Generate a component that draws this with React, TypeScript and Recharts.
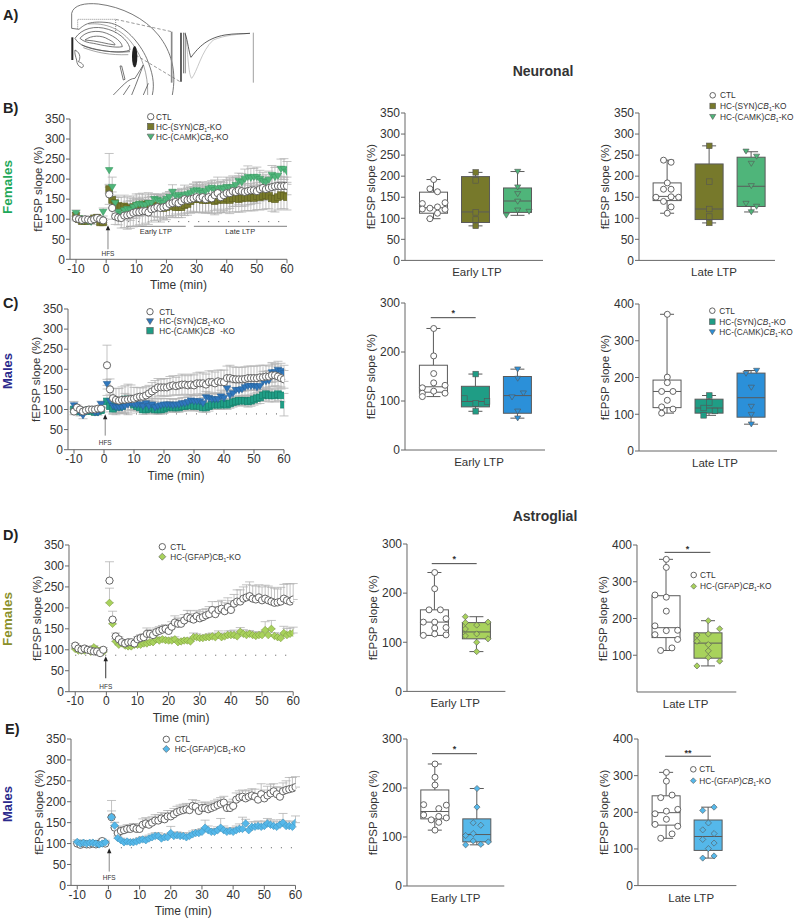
import React from "react";
import {
  Bar,
  ComposedChart,
  ErrorBar,
  ReferenceDot,
  ReferenceLine,
  Scatter,
  XAxis,
  YAxis,
} from "recharts";

// minutes, there is no sample at t=0
const TIME = [
  -10, -9, -8, -7, -6, -5, -4, -3, -2, -1,
  1, 2, 3, 4, 5, 6, 7, 8, 9, 10,
  11, 12, 13, 14, 15, 16, 17, 18, 19, 20,
  21, 22, 23, 24, 25, 26, 27, 28, 29, 30,
  31, 32, 33, 34, 35, 36, 37, 38, 39, 40,
  41, 42, 43, 44, 45, 46, 47, 48, 49, 50,
  51, 52, 53, 54, 55, 56, 57, 58, 59, 60,
];
const TIME_TICKS = [-10, 0, 10, 20, 30, 40, 50, 60];
const SLOPE_TICKS_350 = [0, 50, 100, 150, 200, 250, 300, 350];
const SLOPE_TICKS_300 = [0, 100, 200, 300];
const SLOPE_TICKS_400 = [0, 100, 200, 300, 400];
const SLOPE_TICKS_400_NO_ZERO = [100, 200, 300, 400];

// panel B time course
const B_CTL = [
  102, 100, 98, 100, 99, 97, 100, 103, 100, 97,
  162, 128, 107, 104, 103, 109, 110, 112, 116, 118,
  118, 120, 120, 117, 125, 127, 130, 128, 130, 132,
  138, 140, 143, 140, 145, 150, 148, 150, 152, 155,
  152, 155, 150, 155, 152, 160, 165, 155, 160, 165,
  165, 170, 168, 172, 170, 168, 170, 172, 172, 170,
  175, 178, 175, 178, 180, 182, 183, 182, 183, 183,
];
const B_CTL_ERR = [
  6, 5, 5, 5, 5, 6, 5, 6, 5, 5,
  25, 28, 20, 18, 25, 30, 35, 35, 35, 35,
  32, 35, 30, 30, 32, 30, 32, 35, 32, 33,
  30, 32, 30, 30, 32, 35, 32, 30, 35, 38,
  35, 38, 35, 35, 38, 38, 40, 38, 38, 40,
  38, 38, 36, 36, 38, 35, 34, 35, 32, 30,
  30, 30, 28, 28, 26, 26, 25, 24, 22, 22,
];
const B_SYN = [
  108, 100, 95, 96, 96, 98, 102, 104, 92, 92,
  175, 148, 140, 133, 130, 132, 128, 125, 130, 133,
  135, 137, 135, 138, 135, 135, 130, 132, 128, 130,
  135, 132, 130, 130, 130, 135, 138, 145, 150, 150,
  150, 148, 148, 148, 150, 145, 148, 150, 148, 152,
  148, 152, 152, 150, 152, 155, 153, 155, 153, 158,
  155, 158, 160, 158, 152, 150, 155, 160, 158, 155,
];
const B_SYN_ERR = [
  8, 7, 6, 6, 6, 6, 8, 6, 5, 5,
  10, 20, 20, 22, 25, 28, 28, 28, 28, 30,
  28, 28, 26, 28, 28, 28, 26, 26, 26, 26,
  26, 28, 26, 26, 26, 26, 28, 30, 32, 34,
  32, 32, 32, 32, 34, 34, 34, 32, 32, 34,
  34, 34, 34, 32, 34, 34, 32, 34, 32, 34,
  32, 34, 34, 32, 32, 32, 32, 34, 32, 32,
];
const B_CAMK = [
  115, 102, 96, 98, 95, 93, 98, 102, 100, 118,
  222, 180, 140, 118, 112, 122, 125, 122, 130, 135,
  138, 135, 135, 140, 140, 150, 148, 145, 140, 150,
  155, 168, 158, 160, 155, 160, 162, 165, 170, 172,
  170, 165, 170, 175, 178, 172, 175, 178, 175, 180,
  178, 180, 185, 195, 192, 200, 205, 203, 205, 205,
  200, 195, 192, 198, 210, 205, 208, 225, 225, 218,
];
const B_CAMK_ERR = [
  8, 6, 6, 6, 6, 6, 6, 6, 6, 10,
  42, 25, 15, 12, 10, 12, 14, 14, 15, 14,
  14, 14, 14, 14, 16, 12, 14, 14, 14, 15,
  14, 18, 15, 14, 15, 14, 14, 15, 18, 20,
  22, 20, 18, 18, 18, 18, 16, 16, 16, 18,
  18, 20, 20, 20, 22, 25, 28, 24, 22, 25,
  22, 22, 20, 22, 24, 24, 24, 25, 26, 26,
];

// panel C time course
const C_CTL = [
  95, 105, 100, 95, 98, 100, 100, 100, 102, 102,
  210, 150, 128, 124, 122, 124, 124, 125, 126, 127,
  130, 132, 132, 135, 140, 145, 150, 155, 155, 155,
  155, 158, 160, 158, 160, 162, 162, 160, 162, 160,
  165, 165, 165, 162, 168, 168, 165, 170, 168, 168,
  178, 178, 176, 175, 175, 175, 176, 178, 178, 178,
  178, 180, 180, 182, 182, 185, 185, 182, 178, 175,
];
const C_CTL_ERR = [
  8, 6, 6, 6, 6, 6, 5, 5, 5, 5,
  50, 26, 25, 28, 30, 32, 35, 38, 35, 28,
  25, 22, 22, 22, 20, 22, 22, 22, 20, 22,
  22, 24, 24, 22, 24, 26, 24, 24, 26, 26,
  26, 28, 26, 26, 28, 28, 28, 28, 30, 30,
  30, 32, 30, 30, 30, 30, 30, 30, 30, 30,
  30, 30, 30, 28, 26, 28, 26, 24, 22, 22,
];
const C_SYN = [
  110, 98, 92, 85, 95, 98, 98, 92, 92, 113,
  163, 120, 108, 105, 105, 105, 108, 112, 115, 112,
  112, 112, 108, 115, 108, 112, 105, 108, 110, 112,
  112, 112, 110, 112, 112, 115, 115, 118, 122, 120,
  120, 120, 115, 130, 128, 125, 125, 125, 132, 128,
  152, 135, 140, 148, 148, 150, 155, 158, 158, 158,
  155, 158, 170, 170, 172, 192, 192, 198, 195, 190,
];
const C_SYN_ERR = [
  10, 8, 8, 8, 6, 6, 6, 6, 6, 8,
  12, 18, 18, 18, 15, 15, 15, 15, 15, 15,
  15, 15, 15, 15, 15, 15, 15, 18, 18, 15,
  15, 15, 15, 15, 15, 15, 15, 15, 15, 15,
  15, 15, 15, 15, 15, 15, 15, 15, 16, 16,
  15, 15, 15, 18, 18, 20, 22, 24, 25, 24,
  24, 25, 25, 25, 25, 25, 22, 22, 20, 20,
];
const C_CAMK = [
  100, 98, 95, 95, 96, 98, 96, 94, 96, 98,
  120, 108, 102, 108, 106, 108, 125, 125, 118, 112,
  108, 105, 100, 100, 102, 105, 100, 100, 100, 102,
  105, 108, 105, 105, 105, 108, 108, 110, 110, 108,
  110, 108, 105, 105, 108, 112, 112, 112, 112, 115,
  112, 115, 118, 120, 122, 122, 122, 120, 122, 125,
  128, 130, 135, 138, 135, 135, 135, 138, 135, 112,
];
const C_CAMK_ERR = [
  6, 6, 6, 5, 5, 5, 5, 5, 5, 5,
  15, 14, 14, 15, 14, 14, 15, 12, 12, 12,
  12, 12, 12, 12, 12, 12, 12, 12, 12, 12,
  12, 12, 12, 12, 12, 12, 12, 12, 12, 12,
  12, 12, 12, 12, 12, 12, 12, 12, 12, 12,
  12, 12, 12, 12, 12, 12, 14, 14, 14, 14,
  14, 15, 15, 15, 16, 16, 16, 16, 16, 28,
];

// panel D time course
const D_CTL = [
  110, 103, 100, 103, 100, 98, 96, 96, 92, 100,
  265, 172, 132, 125, 118, 115, 118, 118, 115, 125,
  128, 130, 138, 138, 135, 142, 145, 148, 150, 145,
  155, 165, 162, 162, 170, 178, 175, 172, 180, 175,
  178, 182, 185, 195, 185, 195, 198, 192, 202, 195,
  210, 215, 215, 222, 225, 228, 222, 220, 225, 218,
  222, 218, 215, 212, 213, 215, 222, 218, 215, 220,
];
const D_CTL_ERR = [
  5, 5, 5, 5, 5, 5, 5, 5, 5, 5,
  45, 20, 8, 6, 6, 6, 6, 6, 6, 6,
  8, 8, 14, 10, 8, 10, 10, 10, 10, 10,
  12, 16, 14, 12, 14, 16, 18, 14, 14, 16,
  18, 16, 18, 20, 18, 20, 20, 20, 22, 22,
  22, 28, 28, 28, 30, 34, 32, 32, 30, 32,
  32, 34, 34, 35, 32, 34, 34, 40, 42, 38,
];
const D_KO = [
  102, 98, 98, 98, 100, 95, 106, 100, 98, 95,
  212, 162, 120, 112, 115, 110, 108, 108, 112, 112,
  112, 115, 115, 118, 118, 125, 122, 125, 123, 122,
  122, 125, 118, 120, 122, 122, 120, 130, 130, 128,
  128, 130, 130, 132, 130, 135, 130, 132, 135, 135,
  135, 132, 143, 138, 135, 138, 135, 133, 135, 135,
  147, 135, 150, 133, 130, 128, 140, 135, 138, 140,
];
const D_KO_ERR = [
  4, 4, 4, 4, 4, 4, 4, 4, 4, 4,
  35, 8, 6, 5, 5, 5, 4, 5, 5, 5,
  5, 5, 5, 5, 5, 5, 5, 5, 5, 6,
  5, 6, 5, 5, 5, 6, 6, 10, 8, 6,
  6, 6, 8, 8, 8, 10, 8, 8, 10, 10,
  12, 10, 10, 10, 8, 8, 8, 8, 8, 8,
  20, 10, 20, 8, 8, 8, 16, 16, 14, 14,
];

// panel E time course
const E_CTL = [
  100, 97, 100, 98, 98, 100, 98, 100, 106, 100,
  163, 138, 125, 130, 132, 135, 135, 138, 135, 135,
  145, 148, 145, 150, 155, 155, 160, 158, 165, 165,
  170, 175, 178, 180, 182, 180, 190, 188, 178, 185,
  185, 182, 185, 188, 192, 195, 198, 185, 185, 190,
  205, 210, 212, 208, 212, 215, 212, 205, 218, 208,
  215, 220, 225, 218, 212, 225, 228, 230, 232, 235,
];
const E_CTL_ERR = [
  5, 6, 6, 6, 6, 6, 6, 6, 5, 5,
  40, 12, 8, 10, 10, 10, 10, 10, 12, 12,
  14, 14, 14, 14, 14, 14, 14, 14, 14, 14,
  14, 14, 14, 14, 14, 15, 15, 15, 14, 14,
  14, 14, 14, 14, 14, 15, 15, 14, 16, 16,
  16, 16, 16, 18, 16, 16, 18, 15, 25, 20,
  22, 22, 18, 18, 22, 20, 22, 28, 26, 25,
];
const E_KO = [
  104, 100, 102, 100, 102, 102, 100, 98, 100, 103,
  163, 143, 113, 108, 103, 105, 103, 103, 105, 108,
  110, 108, 112, 115, 118, 118, 112, 115, 115, 125,
  118, 120, 118, 118, 115, 118, 122, 125, 125, 128,
  138, 132, 128, 128, 132, 138, 132, 128, 130, 128,
  132, 135, 135, 148, 132, 140, 140, 142, 140, 142,
  148, 145, 142, 140, 145, 150, 142, 142, 140, 150,
];
const E_KO_ERR = [
  5, 5, 5, 5, 5, 5, 5, 5, 5, 5,
  15, 8, 5, 5, 5, 5, 6, 6, 6, 6,
  7, 7, 8, 8, 8, 8, 8, 8, 8, 16,
  8, 8, 8, 8, 8, 8, 8, 8, 8, 8,
  18, 10, 8, 8, 8, 22, 10, 8, 8, 10,
  10, 12, 28, 10, 10, 12, 12, 12, 12, 12,
  12, 12, 12, 12, 12, 22, 12, 12, 12, 16,
];

// box panels: values per group, and the swarm column each point sits in
const B_EARLY_CTL = [192, 170, 163, 137, 135, 122, 124, 127, 121, 112, 99];
const B_EARLY_CTL_COL = [0, -1, 1, 3, -3, -3, -1, 1, 3, 1, -1];
const B_EARLY_SYN = [209, 190, 114, 97, 82];
const B_EARLY_CAMK = [211, 174, 158, 140, 119, 107, 116];
const B_EARLY_CAMK_COL = [0, 0, 0, 0, 0, -3, 3];
const B_LATE_CTL = [238, 233, 184, 169, 169, 150, 151, 150, 140, 127, 112];
const B_LATE_CTL_COL = [-1, 1, 0, -1, 1, -3, 1, 3, -1, 1, 0];
const B_LATE_SYN = [272, 187, 122, 104, 89];
const B_LATE_CAMK = [259, 247, 230, 177, 135, 128, 115];
const B_LATE_CAMK_COL = [-1.4, 1.4, 0, 0, -1.4, 1.4, 0];

const C_EARLY_CTL = [248, 192, 156, 137, 127, 132, 116, 120, 116, 109];
const C_EARLY_CTL_COL = [0, 0, 0, 0, -3, 3, 3, 0, -3, -3];
const C_EARLY_SYN = [155, 105, 95, 99, 79];
const C_EARLY_SYN_COL = [0, -3, 0, 3, 0];
const C_EARLY_CAMK = [165, 146, 108, 116, 79, 65];
const C_EARLY_CAMK_COL = [0, 0, -1.5, 1.5, 0, 0];
const C_LATE_CTL = [372, 201, 186, 162, 162, 138, 120, 114, 103];
const C_LATE_CTL_COL = [0, 0, 0, -1.5, 1.5, 0, -1.5, 1.5, -1.5];
const C_LATE_SYN = [151, 132, 117, 109, 97];
const C_LATE_SYN_COL = [0, 0, -1.5, 1.5, -1.5];
const C_LATE_CAMK = [219, 211, 173, 121, 99, 73];
const C_LATE_CAMK_COL = [1.4, -1.4, 0, 0, 0, 0];

const D_EARLY_CTL = [242, 209, 166, 166, 141, 141, 148, 129, 130, 114, 117, 115];
const D_EARLY_CTL_COL = [0, 0, -1.5, 1.5, 0, -3, 3, 0, 3, -3, 0, 3];
const D_EARLY_KO = [152, 141, 135, 140, 127, 113, 117, 107, 100, 81];
const D_EARLY_KO_COL = [-3, 3, 0, -3, -3, -3, 0, 3, 0, 0];
const D_LATE_CTL = [361, 339, 264, 258, 220, 180, 156, 167, 168, 143, 113, 120];
const D_LATE_CTL_COL = [0, 0, -3, 0, 0, -3, -3, 0, 3, 3, -1.5, 1.5];
const D_LATE_KO = [194, 172, 155, 158, 129, 138, 112, 94, 84, 71];
const D_LATE_KO_COL = [0, 3, -3, 0, 0, -3, 0, 0, 3, -3];

const E_EARLY_CTL = [249, 222, 206, 166, 165, 158, 145, 142, 139, 135, 130, 114];
const E_EARLY_CTL_COL = [0, 0, 0, -3, 3, 1, -3, 1, 3, -1, 1, 0];
const E_EARLY_KO = [199, 161, 129, 124, 103, 107, 92, 90, 84, 85];
const E_EARLY_KO_COL = [0, 0, -1, 1, -3, -1, -1, 3, -3, 1];
const E_LATE_CTL = [309, 285, 240, 247, 208, 203, 196, 181, 167, 162, 141, 129];
const E_LATE_CTL_COL = [0, 0, -1.5, 1.5, 3, 0, -3, 0, -3, 3, 1.5, -1.5];
const E_LATE_KO = [214, 205, 171, 142, 152, 126, 116, 101, 81, 75];
const E_LATE_KO_COL = [1.5, -1.5, 0, 1.5, -1.5, -1.5, 1.5, 0, 1.5, -1.5];

// [min, q1, median, q3, max]
const B_EARLY_STATS = [[99, 112, 125, 162, 192], [82, 90, 115, 199, 209], [107, 114, 141, 172, 211]];
const B_LATE_STATS = [[112, 142, 152, 184, 238], [89, 97, 122, 229, 272], [115, 128, 176, 245, 258]];
const C_EARLY_STATS = [[109, 118, 129, 173, 248], [79, 88, 99, 130, 155], [65, 75, 111, 150, 165]];
const C_LATE_STATS = [[103, 118, 162, 193, 372], [97, 103, 117, 141, 151], [73, 92, 145, 212, 219]];
const D_EARLY_STATS = [[114, 114, 141, 166, 242], [81, 107, 121, 140, 152]];
const D_LATE_STATS = [[113, 148, 175, 262, 361], [71, 92, 133, 161, 194]];
const E_EARLY_STATS = [[114, 137, 152, 196, 249], [84, 90, 105, 137, 199]];
const E_LATE_STATS = [[129, 165, 199, 245, 309], [75, 96, 134, 179, 214]];

const FONT = '"Liberation Sans", Arial, sans-serif';
const INK = "#333";
const AXIS = "#666";
const ERR = "#b4b4b4";
const OLIVE = "#77792b";
const CAMK_GREEN = "#4fb57a";
const TEAL = "#1f9d85";
const C_BLUE = "#2f77bd";
const BOX_BLUE = "#2b90d9";
const LIME = "#a8d25c";
const SKY = "#55b8ea";
const CTL_STROKE = "#555";

type MarkerKind = "circle" | "square" | "down" | "diamond";

function Marker({ kind, cx, cy, r, fill, stroke }: { kind: MarkerKind; cx: number; cy: number; r: number; fill: string; stroke: string }) {
  if (kind === "circle") return <circle cx={cx} cy={cy} r={r} fill={fill} stroke={stroke} strokeWidth={0.9} />;
  if (kind === "square")
    return <rect x={cx - r} y={cy - r} width={2 * r} height={2 * r} fill={fill} stroke={stroke} strokeWidth={0.6} />;
  if (kind === "down")
    return (
      <polygon
        points={`${cx - r * 1.1},${cy - r * 0.8} ${cx + r * 1.1},${cy - r * 0.8} ${cx},${cy + r}`}
        fill={fill}
        stroke={stroke}
        strokeWidth={0.6}
      />
    );
  return (
    <polygon
      points={`${cx - r * 1.1},${cy} ${cx},${cy - r * 1.1} ${cx + r * 1.1},${cy} ${cx},${cy + r * 1.1}`}
      fill={fill}
      stroke={stroke}
      strokeWidth={0.6}
    />
  );
}

type Series = { name: string; values: number[]; errors: number[]; kind: MarkerKind; fill: string; stroke: string };

type Frame = { left: number; right: number; top: number; bottom: number };

type TimeProps = {
  frame: Frame;
  series: Series[];
  twoWay: boolean;
  sigY: number;
  sigFrom: number;
  arrowT: number;
  arrowFrom: number;
  arrowTo: number;
  hfsY: number;
  arrowColor: string;
  ltpBars?: boolean;
};

const PAD_LEFT = 50;
const PAD_TOP = 12;
const PAD_RIGHT = 12;

function TimeCourse({ frame, series, twoWay, sigY, sigFrom, arrowT, arrowFrom, arrowTo, hfsY, arrowColor, ltpBars }: TimeProps) {
  const axisH = 36;
  return (
    <div style={{ position: "absolute", left: frame.left - PAD_LEFT, top: frame.top - PAD_TOP }}>
      <ComposedChart
        width={frame.right - frame.left + PAD_LEFT + PAD_RIGHT}
        height={frame.bottom - frame.top + PAD_TOP + axisH}
        margin={{ left: 0, top: PAD_TOP, right: PAD_RIGHT, bottom: 0 }}
        style={{ fontFamily: FONT }}
      >
        <XAxis
          dataKey="t"
          type="number"
          domain={[-12, 60]}
          ticks={TIME_TICKS}
          interval={0}
          allowDataOverflow
          height={axisH}
          stroke={AXIS}
          tick={{ fontSize: 12, fill: INK }}
          tickSize={4}
          tickMargin={1}
          label={{ value: "Time (min)", position: "insideBottom", offset: 6, fontSize: 12, fill: INK }}
        />
        <YAxis
          type="number"
          domain={[0, 350]}
          ticks={SLOPE_TICKS_350}
          interval={0}
          allowDataOverflow
          width={PAD_LEFT}
          stroke={AXIS}
          tick={{ fontSize: 12, fill: INK }}
          tickSize={4}
          tickMargin={1}
          label={{
            value: "fEPSP slope (%)",
            angle: -90,
            position: "insideLeft",
            offset: 18,
            fontSize: 11.5,
            fill: INK,
            style: { textAnchor: "middle" },
          }}
        />
        <ReferenceLine
          segment={[{ x: sigFrom, y: sigY }, { x: 60, y: sigY }]}
          stroke="#555"
          strokeWidth={1}
          strokeDasharray="1 9"
        />
        {ltpBars && (
          <ReferenceLine segment={[{ x: 6.6, y: 82 }, { x: 26.4, y: 82 }]} stroke="#999" strokeWidth={1.2} />
        )}
        {ltpBars && (
          <ReferenceLine segment={[{ x: 29.1, y: 82 }, { x: 60, y: 82 }]} stroke="#999" strokeWidth={1.2} />
        )}
        {ltpBars && (
          <ReferenceDot x={16.5} y={69} r={0} stroke="none" label={{ value: "Early LTP", position: "center", fontSize: 7.5, fill: INK }} />
        )}
        {ltpBars && (
          <ReferenceDot x={44.5} y={69} r={0} stroke="none" label={{ value: "Late LTP", position: "center", fontSize: 7.5, fill: INK }} />
        )}
        <ReferenceLine segment={[{ x: arrowT, y: arrowFrom }, { x: arrowT, y: arrowTo }]} stroke={arrowColor} strokeWidth={1} />
        <ReferenceDot
          x={arrowT}
          y={arrowTo}
          r={3}
          shape={(p: any) => (
            <polygon points={`${p.cx - 2.2},${p.cy + 3} ${p.cx + 2.2},${p.cy + 3} ${p.cx},${p.cy - 2}`} fill="#222" />
          )}
        />
        <ReferenceDot x={arrowT} y={hfsY} r={0} stroke="none" label={{ value: "HFS", position: "center", fontSize: 6.5, fill: INK }} />
        {series.map((s) => (
          <Scatter
            key={s.name}
            name={s.name}
            data={TIME.map((t, i) => ({ t, y: s.values[i], err: [twoWay ? s.errors[i] : 0, s.errors[i]] }))}
            dataKey="y"
            isAnimationActive={false}
            shape={(p: any) => (
              <Marker kind={s.kind} cx={p.cx} cy={p.cy} r={s.kind === "circle" ? 3.6 : 3.4} fill={s.fill} stroke={s.stroke} />
            )}
          >
            <ErrorBar dataKey="err" direction="y" width={4.5} stroke={ERR} strokeWidth={0.8} isAnimationActive={false} />
          </Scatter>
        ))}
      </ComposedChart>
    </div>
  );
}

type Group = { values: number[]; cols?: number[]; stats: number[]; kind: MarkerKind; fill: string };

type BoxProps = {
  frame: Frame;
  firstCenter: number;
  label: string;
  yMax: number;
  yTicks: number[];
  groups: Group[];
  sig?: { y: number; from: number; to: number; text: string; textY: number };
  labelDx?: number;
};

const COL_STEP = 0.09;
const BOX_SPACING = 42;
const BOX_HALF = 14;

function BoxShape(props: any) {
  const { x, y, width, height, payload } = props;
  const [lo, q1, med, q3, hi] = payload.stats;
  const unit = height / (q3 - q1);
  const at = (v: number) => y + (q3 - v) * unit;
  const mid = x + width / 2;
  const st = "#5a5a5a";
  return (
    <g>
      <line x1={mid} x2={mid} y1={at(hi)} y2={y} stroke={st} strokeWidth={1} />
      <line x1={mid} x2={mid} y1={y + height} y2={at(lo)} stroke={st} strokeWidth={1} />
      <line x1={mid - 7} x2={mid + 7} y1={at(hi)} y2={at(hi)} stroke={st} strokeWidth={1} />
      <line x1={mid - 7} x2={mid + 7} y1={at(lo)} y2={at(lo)} stroke={st} strokeWidth={1} />
      <rect x={mid - BOX_HALF} y={y} width={BOX_HALF * 2} height={height} fill={payload.fill} stroke={st} strokeWidth={1} />
      <line x1={mid - BOX_HALF} x2={mid + BOX_HALF} y1={at(med)} y2={at(med)} stroke={st} strokeWidth={1} />
    </g>
  );
}

function BoxPanel({ frame, firstCenter, label, yMax, yTicks, groups, sig, labelDx = 0 }: BoxProps) {
  const axisH = 30;
  const x0 = 1 - (firstCenter - frame.left) / BOX_SPACING;
  const x1 = 1 + (frame.right - firstCenter) / BOX_SPACING;
  const boxes = groups.map((g, i) => ({
    x: i + 1,
    range: [g.stats[1], g.stats[3]],
    stats: g.stats,
    fill: g.fill,
  }));
  return (
    <div style={{ position: "absolute", left: frame.left - PAD_LEFT, top: frame.top - PAD_TOP }}>
      <ComposedChart
        width={frame.right - frame.left + PAD_LEFT + PAD_RIGHT}
        height={frame.bottom - frame.top + PAD_TOP + axisH}
        data={boxes}
        margin={{ left: 0, top: PAD_TOP, right: PAD_RIGHT, bottom: 0 }}
        style={{ fontFamily: FONT }}
      >
        <XAxis
          dataKey="x"
          type="number"
          domain={[x0, x1]}
          ticks={[]}
          tick={false}
          tickLine={false}
          allowDataOverflow
          height={axisH}
          stroke={AXIS}
          label={{ value: label, position: "insideBottom", offset: 14, dx: labelDx, fontSize: 11.5, fill: INK }}
        />
        <YAxis
          type="number"
          domain={[0, yMax]}
          ticks={yTicks}
          interval={0}
          allowDataOverflow
          width={PAD_LEFT}
          stroke={AXIS}
          tick={{ fontSize: 12, fill: INK }}
          tickSize={4}
          tickMargin={1}
          label={{
            value: "fEPSP slope (%)",
            angle: -90,
            position: "insideLeft",
            offset: 16,
            fontSize: 11.5,
            fill: INK,
            style: { textAnchor: "middle" },
          }}
        />
        <Bar dataKey="range" barSize={28} isAnimationActive={false} shape={BoxShape} />
        {groups.map((g, i) => (
          <Scatter
            key={i}
            data={g.values.map((y, j) => ({ x: i + 1 + (g.cols ? g.cols[j] : 0) * COL_STEP, y }))}
            dataKey="y"
            isAnimationActive={false}
            shape={(p: any) => (
              <Marker kind={g.kind} cx={p.cx} cy={p.cy} r={g.kind === "circle" ? 3 : 2.8} fill={g.kind === "circle" ? "#fff" : g.fill} stroke={CTL_STROKE} />
            )}
          />
        ))}
        {sig && <ReferenceLine segment={[{ x: sig.from, y: sig.y }, { x: sig.to, y: sig.y }]} stroke="#444" strokeWidth={1} />}
        {sig && (
          <ReferenceDot
            x={(sig.from + sig.to) / 2}
            y={sig.textY}
            r={0}
            stroke="none"
            label={{ value: sig.text, position: "center", fontSize: 9, fontWeight: 700, fill: INK }}
          />
        )}
      </ComposedChart>
    </div>
  );
}

function LegendRow({ x, tx, y, kind, fill, pre, cb, sub, r = 3.2, italic = true, size = 8.2 }: any) {
  return (
    <g>
      <Marker kind={kind} cx={x} cy={y} r={r} fill={fill} stroke={CTL_STROKE} />
      <text x={tx} y={y + 3} fontSize={size} fill={INK}>
        {pre}
        {cb && <tspan fontStyle={italic ? "italic" : "normal"}>{cb}</tspan>}
        {sub && (
          <tspan dy={2} fontSize={size * 0.62}>
            {sub}
          </tspan>
        )}
        {cb && <tspan dy={sub ? -2 : 0} dx={sub ? 0 : 6}>-KO</tspan>}
      </text>
    </g>
  );
}

function Legend3({ x, tx, ys, rows, size }: any) {
  return (
    <g>
      {rows.map((r: any, i: number) => (
        <LegendRow key={i} x={x} tx={tx} y={ys[i]} size={size} {...r} />
      ))}
    </g>
  );
}

function BrainSketch() {
  return (
    <g transform="translate(65,0) scale(0.3333)" fill="none" stroke="#555" strokeWidth={2.4}>
      <path d="M20 85 L20 40 C25 15 60 8 100 12 C170 20 240 55 280 105 C320 155 335 215 322 285" />
      <path d="M20 85 L42 88 C60 72 75 62 130 68 C180 75 225 130 245 175 C262 215 270 250 262 285" />
      <path d="M70 72 C120 68 170 85 205 135 C230 170 250 220 248 285" strokeWidth={1.6} />
      <path d="M38 86 L38 58 L152 58 L152 100" strokeDasharray="3 3" strokeWidth={2} />
      <path d="M152 58 L320 95" strokeDasharray="10 6" strokeWidth={1.8} />
      <path d="M212 165 L345 245" strokeDasharray="10 6" strokeWidth={1.8} />
      <path d="M320 95 L320 248" stroke="#888" strokeWidth={5} />
      <path d="M348 98 L348 245" stroke="#444" strokeWidth={5} />
      <path d="M356 98 L356 220" stroke="#666" strokeWidth={3} />
      <path d="M361 98 L361 220" stroke="#888" strokeWidth={3} />
      <path d="M362 105 C368 150 370 225 380 235 C395 220 410 150 445 120 C480 105 520 103 555 100" stroke="#aaa" strokeWidth={2} />
      <path d="M360 100 C368 120 372 160 378 172 C395 150 420 115 480 105 C510 100 530 102 555 100" stroke="#333" strokeWidth={2.4} />
      <path d="M565 98 L565 248" stroke="#888" strokeWidth={2.4} />
      <path d="M30 115 C50 85 90 75 130 88 C170 100 195 130 195 150 C170 160 130 155 100 150 C70 145 40 135 30 115 Z" />
      <path d="M45 115 C60 95 95 88 125 100 C150 110 170 125 172 140 C150 145 110 135 85 130 C70 128 55 125 45 115 Z" />
      <path d="M60 120 C80 105 110 105 130 118 C145 125 150 132 150 135 C125 132 95 122 60 120 Z" />
      <path d="M50 135 C90 150 140 160 195 155" />
      <path d="M55 143 C95 158 135 166 190 164" strokeWidth={1.6} />
      <ellipse cx={209} cy={170} rx={8} ry={32} fill="#222" stroke="none" />
      <path d="M22 112 L22 180" stroke="#222" strokeWidth={6} />
      <path d="M30 150 C50 160 45 180 40 185 C55 190 60 200 50 203 C40 200 35 190 35 180 C32 170 28 160 30 150 Z" />
      <path d="M165 198 L175 240 L180 238 L170 198 Z" />
      <path d="M145 285 C170 260 190 235 210 235 L235 195" />
      <path d="M235 195 C225 220 215 250 200 285" />
      <path d="M250 250 L235 285" />
      <path d="M175 285 L195 255" />
    </g>
  );
}

function SideLabel({ x, y, text, color, size }: { x: number; y: number; text: string; color: string; size: number }) {
  return (
    <text transform={`rotate(-90 ${x} ${y})`} x={x} y={y} textAnchor="middle" dominantBaseline="middle" fontSize={size} fontWeight={700} fill={color}>
      {text}
    </text>
  );
}

function Overlay() {
  const head = { fontWeight: 700, fontSize: 14.5, fill: "#222" };
  return (
    <svg width={794} height={918} style={{ position: "absolute", left: 0, top: 0, fontFamily: FONT }}>
      <BrainSketch />
      <text x={3} y={20} {...head}>A)</text>
      <text x={3} y={113} {...head}>B)</text>
      <text x={3} y={308} {...head}>C)</text>
      <text x={3} y={540} {...head}>D)</text>
      <text x={5} y={734} {...head}>E)</text>
      <text x={543} y={76} textAnchor="middle" fontSize={14} fontWeight={700} fill="#333">Neuronal</text>
      <text x={545} y={521} textAnchor="middle" fontSize={14} fontWeight={700} fill="#333">Astroglial</text>
      <SideLabel x={8.5} y={187} text="Females" color="#1fa85a" size={13.5} />
      <SideLabel x={8.5} y={371} text="Males" color="#2b2a8c" size={13} />
      <SideLabel x={8.5} y={619} text="Females" color="#8a8f2a" size={13.5} />
      <SideLabel x={9} y={804} text="Males" color="#2b2a8c" size={13} />

      <Legend3
        x={150.7}
        tx={156}
        ys={[116.7, 126.5, 136.7]}
        rows={[
          { kind: "circle", fill: "#fff", pre: "CTL" },
          { kind: "square", fill: OLIVE, pre: "HC-(SYN)", cb: "CB", sub: "1" },
          { kind: "down", fill: CAMK_GREEN, pre: "HC-(CAMK)", cb: "CB", sub: "1" },
        ]}
      />
      <Legend3
        x={150}
        tx={159.3}
        ys={[311.7, 321.3, 330.7]}
        rows={[
          { kind: "circle", fill: "#fff", pre: "CTL" },
          { kind: "down", fill: C_BLUE, pre: "HC-(SYN)", cb: "CB", sub: "1" },
          { kind: "square", fill: TEAL, pre: "HC-(CAMK)", cb: "CB" },
        ]}
      />
      <Legend3
        x={162.3}
        tx={170.3}
        ys={[546.7, 556.7]}
        rows={[
          { kind: "circle", fill: "#fff", pre: "CTL" },
          { kind: "diamond", fill: LIME, pre: "HC-(GFAP)", cb: "CB", sub: "1", italic: false },
        ]}
      />
      <Legend3
        x={166.3}
        tx={174.7}
        ys={[739.3, 749]}
        rows={[
          { kind: "circle", fill: "#fff", pre: "CTL" },
          { kind: "diamond", fill: SKY, pre: "HC-(GFAP)", cb: "CB", sub: "1", italic: false },
        ]}
      />
      <Legend3
        x={712.7}
        tx={720}
        ys={[95.3, 106, 116.7]}
        size={8.3}
        rows={[
          { kind: "circle", fill: "#fff", pre: "CTL", r: 2.8 },
          { kind: "square", fill: OLIVE, pre: "HC-(SYN)", cb: "CB", sub: "1", r: 2.8 },
          { kind: "down", fill: CAMK_GREEN, pre: "HC-(CAMK)", cb: "CB", sub: "1", r: 2.8 },
        ]}
      />
      <Legend3
        x={712.3}
        tx={719.3}
        ys={[310.7, 321.7, 332]}
        size={8.3}
        rows={[
          { kind: "circle", fill: "#fff", pre: "CTL", r: 2.8 },
          { kind: "square", fill: TEAL, pre: "HC-(SYN)", cb: "CB", sub: "1", r: 2.8 },
          { kind: "down", fill: BOX_BLUE, pre: "HC-(CAMK)", cb: "CB", sub: "1", r: 2.8 },
        ]}
      />
      <Legend3
        x={693.7}
        tx={700}
        ys={[575, 586.3]}
        size={8.3}
        rows={[
          { kind: "circle", fill: "#fff", pre: "CTL", r: 2.8 },
          { kind: "diamond", fill: LIME, pre: "HC-(GFAP)", cb: "CB", sub: "1", r: 2.6 },
        ]}
      />
      <Legend3
        x={693.3}
        tx={699.3}
        ys={[769.3, 780.7]}
        size={8.3}
        rows={[
          { kind: "circle", fill: "#fff", pre: "CTL", r: 2.8 },
          { kind: "diamond", fill: SKY, pre: "HC-(GFAP)", cb: "CB", sub: "1", r: 2.6 },
        ]}
      />
    </svg>
  );
}

export default function App() {
  const ctl = (values: number[], errors: number[]): Series => ({ name: "CTL", values, errors, kind: "circle", fill: "#fff", stroke: CTL_STROKE });
  return (
    <div style={{ position: "absolute", left: 0, top: 0, width: 794, height: 918, background: "#fff", fontFamily: FONT, overflow: "hidden" }}>
      <Overlay />

      <TimeCourse
        frame={{ left: 70, right: 287, top: 119, bottom: 259.3 }}
        twoWay
        sigY={94}
        sigFrom={4}
        arrowT={0.6}
        arrowFrom={25}
        arrowTo={80}
        hfsY={15}
        arrowColor="#888"
        ltpBars
        series={[
          { name: "SYN", values: B_SYN, errors: B_SYN_ERR, kind: "square", fill: OLIVE, stroke: "#5e6023" },
          { name: "CAMK", values: B_CAMK, errors: B_CAMK_ERR, kind: "down", fill: CAMK_GREEN, stroke: "#3b9a63" },
          ctl(B_CTL, B_CTL_ERR),
        ]}
      />
      <BoxPanel
        frame={{ left: 405, right: 543, top: 113.3, bottom: 260.7 }}
        firstCenter={433.7}
        label="Early LTP"
        labelDx={3}
        yMax={350}
        yTicks={SLOPE_TICKS_350}
        groups={[
          { values: B_EARLY_CTL, cols: B_EARLY_CTL_COL, stats: B_EARLY_STATS[0], kind: "circle", fill: "#fff" },
          { values: B_EARLY_SYN, stats: B_EARLY_STATS[1], kind: "square", fill: OLIVE },
          { values: B_EARLY_CAMK, cols: B_EARLY_CAMK_COL, stats: B_EARLY_STATS[2], kind: "down", fill: CAMK_GREEN },
        ]}
      />
      <BoxPanel
        frame={{ left: 639, right: 775, top: 113.3, bottom: 260.7 }}
        firstCenter={667.3}
        label="Late LTP"
        labelDx={7}
        yMax={350}
        yTicks={SLOPE_TICKS_350}
        groups={[
          { values: B_LATE_CTL, cols: B_LATE_CTL_COL, stats: B_LATE_STATS[0], kind: "circle", fill: "#fff" },
          { values: B_LATE_SYN, stats: B_LATE_STATS[1], kind: "square", fill: OLIVE },
          { values: B_LATE_CAMK, cols: B_LATE_CAMK_COL, stats: B_LATE_STATS[2], kind: "down", fill: CAMK_GREEN },
        ]}
      />

      <TimeCourse
        frame={{ left: 68, right: 284, top: 309.3, bottom: 450 }}
        twoWay
        sigY={89}
        sigFrom={4}
        arrowT={0.4}
        arrowFrom={35}
        arrowTo={83}
        hfsY={16.5}
        arrowColor="#888"
        series={[
          { name: "CAMK", values: C_CAMK, errors: C_CAMK_ERR, kind: "square", fill: TEAL, stroke: "#187d6a" },
          { name: "SYN", values: C_SYN, errors: C_SYN_ERR, kind: "down", fill: C_BLUE, stroke: "#265f96" },
          ctl(C_CTL, C_CTL_ERR),
        ]}
      />
      <BoxPanel
        frame={{ left: 405, right: 545, top: 303.3, bottom: 450.3 }}
        firstCenter={433.7}
        label="Early LTP"
        labelDx={4}
        yMax={300}
        yTicks={SLOPE_TICKS_300}
        sig={{ y: 270, from: 0.93, to: 2, text: "*", textY: 279 }}
        groups={[
          { values: C_EARLY_CTL, cols: C_EARLY_CTL_COL, stats: C_EARLY_STATS[0], kind: "circle", fill: "#fff" },
          { values: C_EARLY_SYN, cols: C_EARLY_SYN_COL, stats: C_EARLY_STATS[1], kind: "square", fill: TEAL },
          { values: C_EARLY_CAMK, cols: C_EARLY_CAMK_COL, stats: C_EARLY_STATS[2], kind: "down", fill: BOX_BLUE },
        ]}
      />
      <BoxPanel
        frame={{ left: 639, right: 777, top: 303.7, bottom: 450.7 }}
        firstCenter={667.3}
        label="Late LTP"
        labelDx={7}
        yMax={400}
        yTicks={SLOPE_TICKS_400}
        groups={[
          { values: C_LATE_CTL, cols: C_LATE_CTL_COL, stats: C_LATE_STATS[0], kind: "circle", fill: "#fff" },
          { values: C_LATE_SYN, cols: C_LATE_SYN_COL, stats: C_LATE_STATS[1], kind: "square", fill: TEAL },
          { values: C_LATE_CAMK, cols: C_LATE_CAMK_COL, stats: C_LATE_STATS[2], kind: "down", fill: BOX_BLUE },
        ]}
      />

      <TimeCourse
        frame={{ left: 68.5, right: 292.7, top: 545, bottom: 691.7 }}
        twoWay={false}
        sigY={87}
        sigFrom={-10}
        arrowT={-0.2}
        arrowFrom={32}
        arrowTo={80}
        hfsY={13}
        arrowColor="#333"
        series={[
          { name: "KO", values: D_KO, errors: D_KO_ERR, kind: "diamond", fill: LIME, stroke: "#7f9e3f" },
          ctl(D_CTL, D_CTL_ERR),
        ]}
      />
      <BoxPanel
        frame={{ left: 407.3, right: 505.7, top: 544.3, bottom: 691.7 }}
        firstCenter={435}
        label="Early LTP"
        labelDx={-1}
        yMax={300}
        yTicks={SLOPE_TICKS_300}
        sig={{ y: 260, from: 0.93, to: 2, text: "*", textY: 269 }}
        groups={[
          { values: D_EARLY_CTL, cols: D_EARLY_CTL_COL, stats: D_EARLY_STATS[0], kind: "circle", fill: "#fff" },
          { values: D_EARLY_KO, cols: D_EARLY_KO_COL, stats: D_EARLY_STATS[1], kind: "diamond", fill: LIME },
        ]}
      />
      <BoxPanel
        frame={{ left: 636.7, right: 736, top: 544.7, bottom: 691.7 }}
        firstCenter={666}
        label="Late LTP"
        labelDx={-1}
        yMax={400}
        yTicks={SLOPE_TICKS_400_NO_ZERO}
        sig={{ y: 380, from: 0.96, to: 2.05, text: "*", textY: 390 }}
        groups={[
          { values: D_LATE_CTL, cols: D_LATE_CTL_COL, stats: D_LATE_STATS[0], kind: "circle", fill: "#fff" },
          { values: D_LATE_KO, cols: D_LATE_KO_COL, stats: D_LATE_STATS[1], kind: "diamond", fill: LIME },
        ]}
      />

      <TimeCourse
        frame={{ left: 70.5, right: 295, top: 739.3, bottom: 885.7 }}
        twoWay={false}
        sigY={90}
        sigFrom={4}
        arrowT={0.26}
        arrowFrom={33}
        arrowTo={84}
        hfsY={18}
        arrowColor="#888"
        series={[
          ctl(E_CTL, E_CTL_ERR),
          { name: "KO", values: E_KO, errors: E_KO_ERR, kind: "diamond", fill: SKY, stroke: "#3f93bd" },
        ]}
      />
      <BoxPanel
        frame={{ left: 406.7, right: 504, top: 739.3, bottom: 886.3 }}
        firstCenter={434.7}
        label="Early LTP"
        yMax={300}
        yTicks={SLOPE_TICKS_300}
        sig={{ y: 270, from: 0.93, to: 2, text: "*", textY: 279 }}
        groups={[
          { values: E_EARLY_CTL, cols: E_EARLY_CTL_COL, stats: E_EARLY_STATS[0], kind: "circle", fill: "#fff" },
          { values: E_EARLY_KO, cols: E_EARLY_KO_COL, stats: E_EARLY_STATS[1], kind: "diamond", fill: SKY },
        ]}
      />
      <BoxPanel
        frame={{ left: 638.3, right: 736.7, top: 738.7, bottom: 885.3 }}
        firstCenter={666.7}
        label="Late LTP"
        labelDx={4}
        yMax={400}
        yTicks={SLOPE_TICKS_400}
        sig={{ y: 353, from: 0.97, to: 2.06, text: "**", textY: 363 }}
        groups={[
          { values: E_LATE_CTL, cols: E_LATE_CTL_COL, stats: E_LATE_STATS[0], kind: "circle", fill: "#fff" },
          { values: E_LATE_KO, cols: E_LATE_KO_COL, stats: E_LATE_STATS[1], kind: "diamond", fill: SKY },
        ]}
      />
    </div>
  );
}
